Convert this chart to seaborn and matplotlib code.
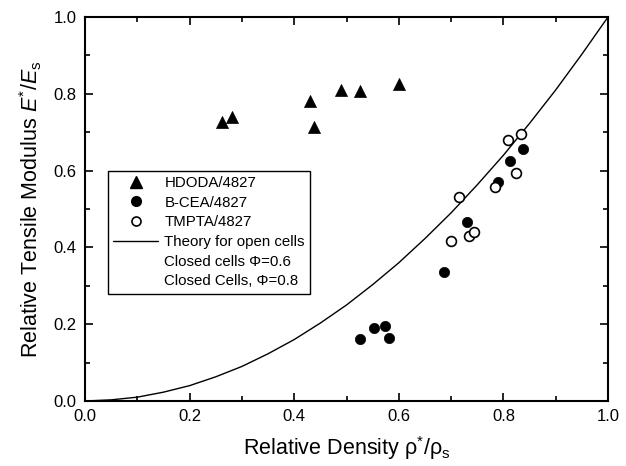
import matplotlib
matplotlib.use("Agg")
import matplotlib.pyplot as plt
import seaborn as sns
import pandas as pd
from matplotlib.lines import Line2D

# ---- data ----
hdoda_x = [0.261, 0.281, 0.430, 0.437, 0.489, 0.526, 0.600]
hdoda_y = [0.726, 0.740, 0.780, 0.714, 0.809, 0.806, 0.826]

bcea_x = [0.525, 0.553, 0.574, 0.582, 0.687, 0.731, 0.790, 0.813, 0.837]
bcea_y = [0.161, 0.189, 0.195, 0.165, 0.336, 0.465, 0.571, 0.626, 0.656]

tmpta_x = [0.699, 0.716, 0.735, 0.744, 0.784, 0.809, 0.825, 0.833]
tmpta_y = [0.417, 0.532, 0.429, 0.440, 0.557, 0.679, 0.595, 0.695]

theory_x = [0.00, 0.05, 0.10, 0.15, 0.20, 0.25, 0.30, 0.35, 0.40, 0.45, 0.50,
            0.55, 0.60, 0.65, 0.70, 0.75, 0.80, 0.85, 0.90, 0.95, 1.00]
theory_y = [0.000, 0.003, 0.010, 0.023, 0.040, 0.063, 0.090, 0.123, 0.160, 0.203, 0.250,
            0.303, 0.360, 0.423, 0.490, 0.563, 0.640, 0.723, 0.810, 0.903, 1.000]

labels = ["HDODA/4827", "B-CEA/4827", "TMPTA/4827", "Theory for open cells",
          "Closed cells \u03a6=0.6", "Closed Cells, \u03a6=0.8"]
ticks = [0.0, 0.2, 0.4, 0.6, 0.8, 1.0]
tick_labels = ["0.0", "0.2", "0.4", "0.6", "0.8", "1.0"]

sns.set_style("ticks")
plt.rcParams["font.family"] = ["Liberation Sans", "DejaVu Sans"]
plt.rcParams["mathtext.fontset"] = "custom"
plt.rcParams["mathtext.rm"] = "Liberation Sans"
plt.rcParams["mathtext.it"] = "Liberation Sans:italic"
plt.rcParams["mathtext.bf"] = "Liberation Sans:bold"
plt.rcParams["text.color"] = "black"
plt.rcParams["axes.labelcolor"] = "black"

fig = plt.figure(figsize=(6.26, 4.66), dpi=100)
ax = fig.add_axes([85/626, 1-401/466, (608-85)/626, (401-17)/466])

df_h = pd.DataFrame({"x": hdoda_x, "y": hdoda_y})
df_b = pd.DataFrame({"x": bcea_x, "y": bcea_y})
df_t = pd.DataFrame({"x": tmpta_x, "y": tmpta_y})
df_th = pd.DataFrame({"x": theory_x, "y": theory_y})

sns.lineplot(data=df_th, x="x", y="y", ax=ax, color="black", lw=1.0, sort=True, legend=False)
sns.scatterplot(data=df_h, x="x", y="y", ax=ax, marker="^", s=75, color="black",
                edgecolor="black", linewidth=0.5, legend=False, zorder=3)
sns.scatterplot(data=df_b, x="x", y="y", ax=ax, marker="o", s=55, color="black",
                edgecolor="black", linewidth=0.5, legend=False, zorder=3)
sns.scatterplot(data=df_t, x="x", y="y", ax=ax, marker="o", s=50, facecolor="white",
                edgecolor="black", linewidth=1.2, legend=False, zorder=3)

ax.set_xlim(0, 1)
ax.set_ylim(0, 1)
ax.set_xticks(ticks)
ax.set_xticklabels(tick_labels)
ax.set_yticks(ticks)
ax.set_yticklabels(tick_labels)
ax.set_xticks([0.1, 0.3, 0.5, 0.7, 0.9], minor=True)
ax.set_yticks([0.1, 0.3, 0.5, 0.7, 0.9], minor=True)
ax.tick_params(which="both", direction="in", top=True, right=True, width=1.2,
               labelsize=12, colors="black")
ax.tick_params(which="major", length=6, pad=6)
ax.tick_params(which="minor", length=3.5)
for sp in ax.spines.values():
    sp.set_linewidth(1.5)
    sp.set_color("black")

ax.set_xlabel("Relative Density \u03c1$^{*}$/\u03c1$_\\mathrm{s}$", fontsize=15.5, labelpad=7)
ax.set_ylabel("Relative Tensile Modulus $\\mathit{E}^{*}/\\mathit{E}_\\mathrm{s}$", fontsize=15.5, labelpad=7)

handles = [
    Line2D([], [], ls="none", marker="^", ms=8, color="black"),
    Line2D([], [], ls="none", marker="o", ms=7, color="black"),
    Line2D([], [], ls="none", marker="o", ms=6.5, mfc="white", mec="black", mew=1.2),
    Line2D([], [], color="black", lw=1.0),
    Line2D([], [], ls="none", marker=None, color="none"),
    Line2D([], [], ls="none", marker=None, color="none"),
]
leg = ax.legend(handles, labels, loc="upper left", bbox_to_anchor=(0.044, 0.60),
                borderaxespad=0, fontsize=10.8, frameon=True, fancybox=False,
                edgecolor="black", framealpha=1, handlelength=3.0, handletextpad=0.4,
                labelspacing=0.38, borderpad=0.35)
leg.get_frame().set_linewidth(1.0)

fig.savefig("out.png", dpi=100)
